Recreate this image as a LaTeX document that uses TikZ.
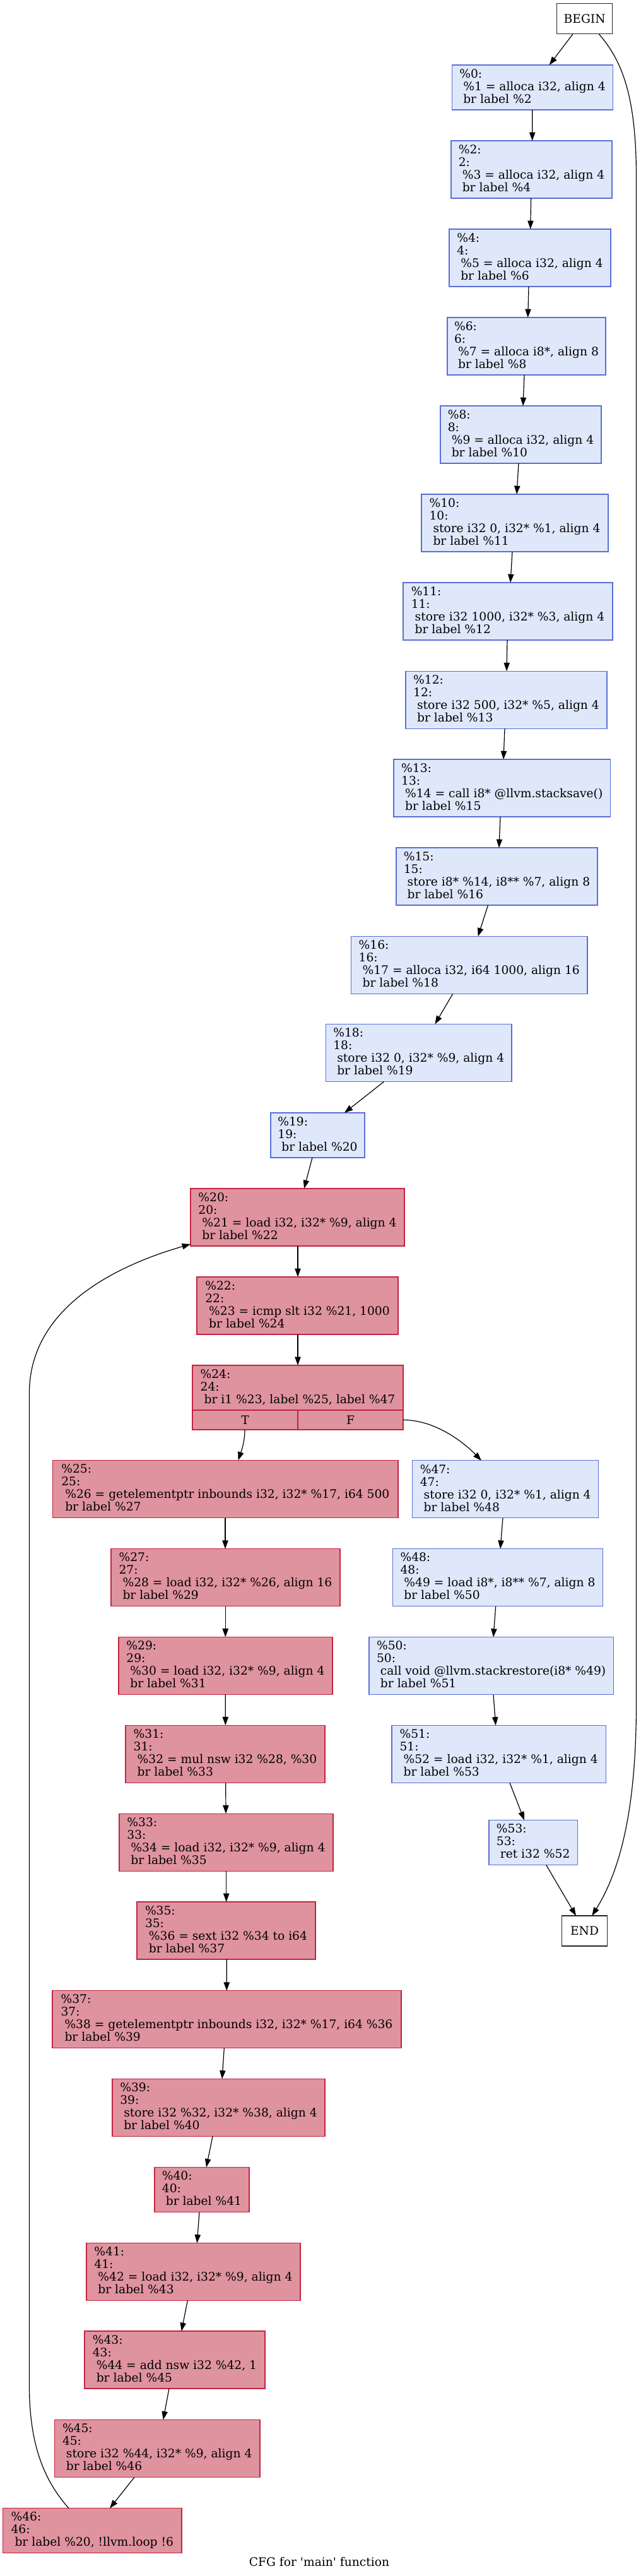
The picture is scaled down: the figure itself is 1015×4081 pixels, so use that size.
\documentclass[tikz,border=0pt]{standalone}
\usepackage{fontspec}
\setmainfont{DejaVu Serif}
\usetikzlibrary{arrows.meta,calc}
\definecolor{coldf}{HTML}{DFE8FB}
\definecolor{coldb}{HTML}{5A6ED6}
\definecolor{hotf}{HTML}{DF939F}
\definecolor{hotb}{HTML}{C42341}
\newcommand\sr{\rule[-4pt]{0pt}{15pt}}
\newcommand\bfour[3]{\sr\%#1:\\\sr #1:\\\sr\ #2\\\sr\ #3}
\newcommand\bthree[2]{\sr\%#1:\\\sr #1:\\\sr\ #2}
\frenchspacing
\tikzset{
  basebox/.style={draw, line width=0.85pt, inner sep=0pt, outer sep=0pt, align=left, font=\fontsize{14}{15}\selectfont},
  cold/.style={basebox, draw=coldb, fill=coldf},
  hot/.style={basebox, draw=hotb, fill=hotf},
  term/.style={basebox, draw=black!85, fill=white, align=center},
  sz/.style 2 args={minimum width=#1, minimum height=#2},
  cfgarrow/.style={line width=0.9pt, -{Triangle[length=10pt,width=7pt]}},
}
\begin{document}
\begin{tikzpicture}[x=0.75pt,y=-0.75pt]
\path[fill=white] (0,0) rectangle (1015,4081);
\useasboundingbox (0,0) rectangle (1015,4081);
% right column (entry)
\node[term, sz={66pt}{36pt}] (begin) at (926.7,29.85) {BEGIN};
\node[cold, sz={190.95pt}{53.25pt}] (n0) at (844,138.5) {\sr\%0:\\\sr\ \%1 = alloca i32, align 4\\\sr\ br label \%2};
\node[cold, sz={191.25pt}{68.25pt}] (n2) at (842.5,268.5) {\bfour{2}{\%3 = alloca i32, align 4}{br label \%4}};
\node[cold, sz={192pt}{68.25pt}] (n4) at (840,408.5) {\bfour{4}{\%5 = alloca i32, align 4}{br label \%6}};
\node[cold, sz={188.25pt}{68.25pt}] (n6) at (834.5,548.5) {\bfour{6}{\%7 = alloca i8*, align 8}{br label \%8}};
\node[cold, sz={191.25pt}{68.25pt}] (n8) at (825.5,688.5) {\bfour{8}{\%9 = alloca i32, align 4}{br label \%10}};
\node[cold, sz={222pt}{68.25pt}] (n10) at (816,828.5) {\bfour{10}{store i32 0, i32* \%1, align 4}{br label \%11}};
\node[cold, sz={249pt}{68.25pt}] (n11) at (805,968.5) {\bfour{11}{store i32 1000, i32* \%3, align 4}{br label \%12}};
\node[cold, sz={239.25pt}{68.25pt}] (n12) at (802.5,1108.75) {\bfour{12}{store i32 500, i32* \%5, align 4}{br label \%13}};
\node[cold, sz={257.6pt}{68.25pt}] (n13) at (795.75,1248.5) {\bfour{13}{\%14 = call i8* @llvm.stacksave()}{br label \%15}};
\node[cold, sz={239.25pt}{68.25pt}] (n15) at (787.5,1388.5) {\bfour{15}{store i8* \%14, i8** \%7, align 8}{br label \%16}};
\node[cold, sz={280.9pt}{68.25pt}] (n16) at (743.75,1529) {\bfour{16}{\%17 = alloca i32, i64 1000, align 16}{br label \%18}};
\node[cold, sz={220.9pt}{68.25pt}] (n18) at (663.75,1668) {\bfour{18}{store i32 0, i32* \%9, align 4}{br label \%19}};
\node[cold, sz={111.75pt}{53.25pt}] (n19) at (503.5,1798.5) {\bthree{19}{br label \%20}};
% loop header
\node[hot, sz={254.25pt}{68.25pt}] (n20) at (471.5,1928.5) {\bfour{20}{\%21 = load i32, i32* \%9, align 4}{br label \%22}};
\node[hot, sz={239.25pt}{68.25pt}] (n22) at (471.5,2068.5) {\bfour{22}{\%23 = icmp slt i32 \%21, 1000}{br label \%24}};
\node[hot, sz={250.5pt}{53.25pt}] (n24) at (472,2198.5) {\bthree{24}{br i1 \%23, label \%25, label \%47}};
\node[hot, align=center, sz={125.25pt}{23.25pt}] (n24T) at (388.5,2249.5) {T};
\node[hot, align=center, sz={125.25pt}{23.25pt}] (n24F) at (555.5,2249.5) {F};
% loop body
\node[hot, sz={410.5pt}{68.25pt}] (n25) at (357.35,2359) {\bfour{25}{\%26 = getelementptr inbounds i32, i32* \%17, i64 500}{br label \%27}};
\node[hot, sz={272.25pt}{68.25pt}] (n27) at (357.5,2499.25) {\bfour{27}{\%28 = load i32, i32* \%26, align 16}{br label \%29}};
\node[hot, sz={254.25pt}{68.25pt}] (n29) at (357.5,2639) {\bfour{29}{\%30 = load i32, i32* \%9, align 4}{br label \%31}};
\node[hot, sz={237pt}{68.25pt}] (n31) at (357,2778.75) {\bfour{31}{\%32 = mul nsw i32 \%28, \%30}{br label \%33}};
\node[hot, sz={254.25pt}{68.25pt}] (n33) at (358.5,2918.85) {\bfour{33}{\%34 = load i32, i32* \%9, align 4}{br label \%35}};
\node[hot, sz={212.25pt}{68.25pt}] (n35) at (358.5,3058.5) {\bfour{35}{\%36 = sext i32 \%34 to i64}{br label \%37}};
\node[hot, sz={414.75pt}{68.25pt}] (n37) at (359.5,3199.25) {\bfour{37}{\%38 = getelementptr inbounds i32, i32* \%17, i64 \%36}{br label \%39}};
\node[hot, sz={252.75pt}{68.25pt}] (n39) at (346.5,3339) {\bfour{39}{store i32 \%32, i32* \%38, align 4}{br label \%40}};
\node[hot, sz={112.5pt}{53.25pt}] (n40) at (320,3469) {\bthree{40}{br label \%41}};
\node[hot, sz={254.25pt}{68.25pt}] (n41) at (306.5,3599) {\bfour{41}{\%42 = load i32, i32* \%9, align 4}{br label \%43}};
\node[hot, sz={214.5pt}{68.25pt}] (n43) at (277,3738.5) {\bfour{43}{\%44 = add nsw i32 \%42, 1}{br label \%45}};
\node[hot, sz={244.1pt}{68.25pt}] (n45) at (249.25,3879) {\bfour{45}{store i32 \%44, i32* \%9, align 4}{br label \%46}};
\node[hot, sz={212.55pt}{53.25pt}] (n46) at (146.3,4009.2) {\bthree{46}{br label \%20, !llvm.loop !6}};
% exit path
\node[cold, sz={221.25pt}{68.25pt}] (n47) at (801.2,2359.35) {\bfour{47}{store i32 0, i32* \%1, align 4}{br label \%48}};
\node[cold, sz={249.45pt}{68.25pt}] (n48) at (789,2499.2) {\bfour{48}{\%49 = load i8*, i8** \%7, align 8}{br label \%50}};
\node[cold, sz={290.5pt}{68.25pt}] (n50) at (778.65,2639.15) {\bfour{50}{call void @llvm.stackrestore(i8* \%49)}{br label \%51}};
\node[cold, sz={254.5pt}{68.25pt}] (n51) at (790.65,2779) {\bfour{51}{\%52 = load i32, i32* \%1, align 4}{br label \%53}};
\node[cold, sz={105.2pt}{53.25pt}] (n53) at (845.15,2919) {\bthree{53}{ret i32 \%52}};
\node[term, sz={54.3pt}{36pt}] (end) at (926.5,3059) {END};
% caption
\node[font=\fontsize{14}{15}\selectfont, anchor=base, inner sep=0pt] (cap) at (506,4065) {CFG for \textquotesingle main\textquotesingle\ function};
% edges
\draw[cfgarrow] ($(begin.south)+(-18.7,0)$) -- ($(n0.north)+(26.7,0)$);
\draw[cfgarrow] ($(begin.south)+(22.6,0)$) .. controls (985,95) and (1008.5,150) .. (1008.5,280) -- (1008.5,2700) .. controls (1008.5,2860) and (985,2960) .. ($(end.north)+(11.8,0)$);
\draw[cfgarrow] ($(n0.south)+(-0.3,0)$) -- ($(n2.north)+(1.2,0)$);
\draw[cfgarrow] ($(n2.south)+(-0.8,0)$) -- ($(n4.north)+(0.7,0)$);
\draw[cfgarrow] ($(n4.south)+(-2,0)$) -- ($(n6.north)+(2.2,0)$);
\draw[cfgarrow] ($(n6.south)+(-3.5,0)$) -- ($(n8.north)+(3.5,0)$);
\draw[cfgarrow] ($(n8.south)+(-3.5,0)$) -- ($(n10.north)+(3,0)$);
\draw[cfgarrow] ($(n10.south)+(-4,0)$) -- ($(n11.north)+(4,0)$);
\draw[cfgarrow] ($(n11.south)+(-1,0)$) -- ($(n12.north)+(0.5,0)$);
\draw[cfgarrow] ($(n12.south)+(-2.5,0)$) -- ($(n13.north)+(2.25,0)$);
\draw[cfgarrow] ($(n13.south)+(-2.75,0)$) -- ($(n15.north)+(3.5,0)$);
\draw[cfgarrow] ($(n15.south)+(-14,0)$) -- ($(n16.north)+(13.85,0)$);
\draw[cfgarrow] ($(n16.south)+(-26.15,0)$) -- ($(n18.north)+(25.65,0)$);
\draw[cfgarrow] ($(n18.south)+(-55.15,0)$) -- ($(n19.north)+(42.4,0)$);
\draw[cfgarrow] ($(n19.south)+(-8.5,0)$) -- ($(n20.north)+(10.5,0)$);
\draw[cfgarrow] ($(n20.south)+(0.5,0)$) -- ($(n22.north)+(0.5,0)$);
\draw[cfgarrow] ($(n22.south)+(0.5,0)$) -- (n24.north);
\draw[cfgarrow] ($(n24T.south)+(-0.5,0)$) .. controls (388,2285) and (382,2300) .. ($(n25.north)+(20.25,0)$);
\draw[cfgarrow] (n24F.east) .. controls (690,2249.5) and (735,2285) .. ($(n47.north)+(-38.2,0)$);
\draw[cfgarrow] ($(n25.south)+(-0.35,0)$) -- ($(n27.north)+(-0.5,0)$);
\draw[cfgarrow] ($(n27.south)+(-0.2,0)$) -- ($(n29.north)+(-0.2,0)$);
\draw[cfgarrow] ($(n29.south)+(-0.2,0)$) -- ($(n31.north)+(0.3,0)$);
\draw[cfgarrow] ($(n31.south)+(0.7,0)$) -- ($(n33.north)+(-0.5,0)$);
\draw[cfgarrow] ($(n33.south)+(0.2,0)$) -- ($(n35.north)+(0.2,0)$);
\draw[cfgarrow] ($(n35.south)+(0.8,0)$) -- ($(n37.north)+(-0.2,0)$);
\draw[cfgarrow] ($(n37.south)+(-4.2,0)$) -- ($(n39.north)+(5.5,0)$);
\draw[cfgarrow] ($(n39.south)+(-9.5,0)$) -- ($(n40.north)+(7,0)$);
\draw[cfgarrow] ($(n40.south)+(-4,0)$) -- ($(n41.north)+(5.8,0)$);
\draw[cfgarrow] ($(n41.south)+(-9.2,0)$) -- ($(n43.north)+(10.7,0)$);
\draw[cfgarrow] ($(n43.south)+(-9,0)$) -- ($(n45.north)+(9.45,0)$);
\draw[cfgarrow] ($(n45.south)+(-36.25,0)$) -- ($(n46.north)+(27.7,0)$);
\draw[cfgarrow] ($(n46.north)+(-37.3,0)$) .. controls (74,3934) and (46.5,3880) .. (46.5,3780) -- (46.5,2207) .. controls (46.5,2090) and (150,2015) .. ($(n20.south west)+(0,-3)$);
\draw[cfgarrow] ($(n47.south)+(-4.2,0)$) -- ($(n48.north)+(4,0)$);
\draw[cfgarrow] ($(n48.south)+(-3.3,0)$) -- ($(n50.north)+(3.35,0)$);
\draw[cfgarrow] ($(n50.south)+(3.35,0)$) -- ($(n51.north)+(-4.95,0)$);
\draw[cfgarrow] ($(n51.south)+(17.35,0)$) -- ($(n53.north)+(-14.15,0)$);
\draw[cfgarrow] ($(n53.south)+(20.55,0)$) -- ($(end.north)+(-13.5,0)$);
\end{tikzpicture}
\end{document}
